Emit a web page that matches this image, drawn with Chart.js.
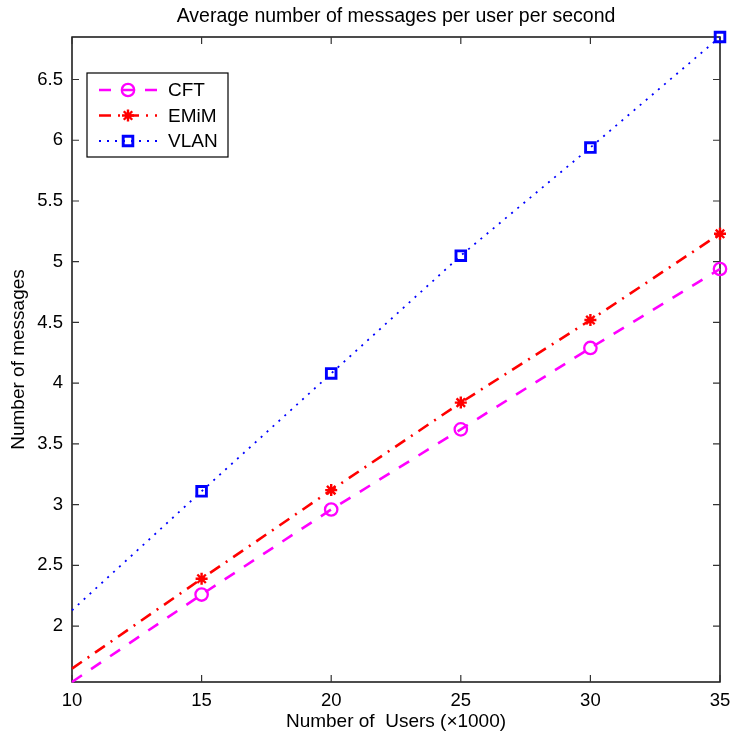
<!DOCTYPE html>
<html>
<head>
<meta charset="utf-8">
<script src="https://cdn.jsdelivr.net/npm/chart.js@4.4.1/dist/chart.umd.min.js"></script>
<style>
    html, body { margin: 0; padding: 0; background: #fff; }
    #grafico { display: block; }
</style>
</head>
<body>
<canvas id="grafico" width="733" height="736"></canvas>
<script>
// Dados (mensagens por usuário por segundo)
const usuarios = [10, 15, 20, 25, 30, 35];
const cft = [1.54, 2.26, 2.96, 3.62, 4.29, 4.94];
const emim = [1.65, 2.39, 3.12, 3.84, 4.52, 5.23];
const vlan = [2.13, 3.11, 4.08, 5.05, 5.94, 6.85];
const ticksX = [10, 15, 20, 25, 30, 35];
const ticksY = [2, 2.5, 3, 3.5, 4, 4.5, 5, 5.5, 6, 6.5];
const nomes = ['CFT', 'EMiM', 'VLAN'];
const titulo = 'Average number of messages per user per second';

const fonte = '"Liberation Sans", Arial, Helvetica, sans-serif';

function pontos(valores) {
    return usuarios.map((u, i) => ({ x: u, y: valores[i] }));
}

// Sem marcador no primeiro ponto: a reta começa em 10
const comMarcador = usuarios.map((u, i) => i > 0);

const estilos = [
    { cor: '#ff00ff', traco: [12, 11], largura: 2.6, marcador: 'circle', raio: 6.2, espessura: 2.3 },
    { cor: '#ff0000', traco: [12, 7, 2, 7], largura: 2.6, marcador: 'star', raio: 6, espessura: 2.4 },
    { cor: '#0000ff', traco: [2, 6], largura: 1.8, marcador: 'rect', raio: 6.8, espessura: 2.9 }
];

// Marcador sem preenchimento
function desenharMarcador(ctx, tipo, x, y, r, cor, larg) {
    ctx.save();
    ctx.strokeStyle = cor;
    ctx.lineWidth = larg;
    ctx.setLineDash([]);
    ctx.beginPath();
    if (tipo === 'circle') {
        ctx.arc(x, y, r, 0, Math.PI * 2);
    } else if (tipo === 'rect') {
        const s = r * Math.SQRT1_2;
        ctx.rect(x - s, y - s, 2 * s, 2 * s);
    } else {
        for (let k = 0; k < 4; k++) {
            const a = k * Math.PI / 4;
            ctx.moveTo(x - r * Math.cos(a), y - r * Math.sin(a));
            ctx.lineTo(x + r * Math.cos(a), y + r * Math.sin(a));
        }
    }
    ctx.stroke();
    ctx.restore();
}

// Moldura, marcas dos eixos voltadas para dentro e título
const moldura = {
    id: 'moldura',
    beforeDatasetsDraw(chart) {
        const { ctx, chartArea: a, scales } = chart;
        const t = 7;
        ctx.save();
        ctx.strokeStyle = '#000';
        ctx.lineWidth = 1.4;
        ctx.strokeRect(a.left, a.top, a.right - a.left, a.bottom - a.top);
        ctx.strokeStyle = '#333';
        ctx.lineWidth = 1.2;
        ctx.beginPath();
        ticksX.forEach(v => {
            const px = scales.x.getPixelForValue(v);
            ctx.moveTo(px, a.bottom); ctx.lineTo(px, a.bottom - t);
            ctx.moveTo(px, a.top); ctx.lineTo(px, a.top + t);
        });
        ticksY.forEach(v => {
            const py = scales.y.getPixelForValue(v);
            ctx.moveTo(a.left, py); ctx.lineTo(a.left + t, py);
            ctx.moveTo(a.right, py); ctx.lineTo(a.right - t, py);
        });
        ctx.stroke();

        ctx.fillStyle = '#000';
        ctx.font = '19.5px ' + fonte;
        ctx.textAlign = 'center';
        ctx.textBaseline = 'middle';
        ctx.fillText(titulo, (a.left + a.right) / 2, 17);
        ctx.restore();
    },
    afterDatasetsDraw(chart) {
        const { ctx } = chart;
        chart.data.datasets.forEach((ds, i) => {
            const e = estilos[i];
            chart.getDatasetMeta(i).data.forEach((p, j) => {
                if (comMarcador[j]) desenharMarcador(ctx, e.marcador, p.x, p.y, e.raio, e.cor, e.espessura);
            });
        });
    }
};

// Legenda no canto superior esquerdo
const legenda = {
    id: 'legenda',
    afterDraw(chart) {
        const { ctx, chartArea: a } = chart;
        const x0 = a.left + 15, y0 = a.top + 36, w = 141, h = 84;
        ctx.save();
        ctx.fillStyle = '#fff';
        ctx.fillRect(x0, y0, w, h);
        ctx.strokeStyle = '#000';
        ctx.lineWidth = 1.2;
        ctx.strokeRect(x0, y0, w, h);
        nomes.forEach((nome, i) => {
            const e = estilos[i];
            const y = y0 + 17 + i * 25.5;
            ctx.strokeStyle = e.cor;
            ctx.lineWidth = e.largura;
            ctx.setLineDash(e.traco);
            ctx.beginPath();
            ctx.moveTo(x0 + 12, y);
            ctx.lineTo(x0 + 70, y);
            ctx.stroke();
            ctx.setLineDash([]);
            desenharMarcador(ctx, e.marcador, x0 + 41, y, e.raio, e.cor, e.espessura);
            ctx.fillStyle = '#000';
            ctx.font = '19px ' + fonte;
            ctx.textBaseline = 'middle';
            ctx.fillText(nome, x0 + 81, y + 1);
        });
        ctx.restore();
    }
};

new Chart(document.getElementById('grafico'), {
    type: 'line',
    data: {
        datasets: [cft, emim, vlan].map((serie, i) => ({
            label: nomes[i],
            data: pontos(serie),
            borderColor: estilos[i].cor,
            borderWidth: estilos[i].largura,
            borderDash: estilos[i].traco,
            borderCapStyle: 'butt',
            pointRadius: 0,
            pointHoverRadius: 0,
            fill: false,
            tension: 0,
            clip: false
        }))
    },
    options: {
        responsive: false,
        animation: false,
        devicePixelRatio: 1,
        layout: { padding: { left: 0, right: 13, top: 37, bottom: 0 } },
        plugins: {
            legend: { display: false },
            tooltip: { enabled: false },
            title: { display: false }
        },
        scales: {
            x: {
                type: 'linear',
                min: 10,
                max: 35,
                afterBuildTicks: s => { s.ticks = ticksX.map(v => ({ value: v })); },
                afterFit: s => { s.height = 54; s.paddingLeft = 0; s.paddingRight = 0; },
                grid: { display: false, drawTicks: false },
                border: { display: false },
                ticks: {
                    color: '#000', padding: 8,
                    font: { family: fonte, size: 18.5 },
                    callback: v => String(v)
                },
                title: {
                    display: true,
                    text: 'Number of  Users (\u00d71000)',
                    color: '#000',
                    font: { family: fonte, size: 19 },
                    padding: { top: 0, bottom: 2.8 }
                }
            },
            y: {
                type: 'linear',
                min: 1.54,
                max: 6.85,
                afterBuildTicks: s => { s.ticks = ticksY.map(v => ({ value: v })); },
                afterFit: s => { s.width = 72; s.paddingTop = 0; s.paddingBottom = 0; },
                grid: { display: false, drawTicks: false },
                border: { display: false },
                ticks: {
                    color: '#000', padding: 9,
                    font: { family: fonte, size: 18.5 },
                    callback: v => String(v)
                },
                title: {
                    display: true,
                    text: 'Number of messages',
                    color: '#000',
                    font: { family: fonte, size: 19 },
                    padding: { top: 7.6, bottom: 0 }
                }
            }
        }
    },
    plugins: [moldura, legenda]
});
</script>
</body>
</html>
